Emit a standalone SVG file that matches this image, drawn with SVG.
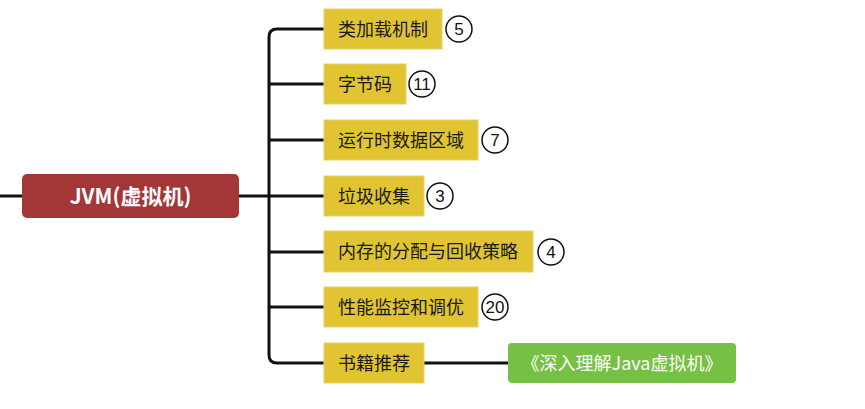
<svg xmlns="http://www.w3.org/2000/svg" width="865" height="409" viewBox="0 0 865 409">
<style>
.ln{fill:none;stroke:#111;stroke-width:3;stroke-linecap:butt}
.yb{fill:#e0c432;stroke:#e8d06a;stroke-width:1}
.yt{font-family:"Noto Sans CJK SC","Liberation Sans",sans-serif;font-size:18px;fill:#1a1a1a}
.bc{fill:#fff;stroke:#111;stroke-width:1.5}
.bt{font-family:"Liberation Sans",Arial,sans-serif;font-size:17px;fill:#111;text-anchor:middle}
</style>
<rect width="865" height="409" fill="#fff"/>
<g id="connectors">
<path class="ln" d="M0 196H22M239 196H269"/>
<path class="ln" d="M324 29H277Q269 29 269 37V355Q269 363 277 363H324"/>
<path class="ln" d="M269 84H324M269 140H324M269 196H324M269 252H324M269 307H324"/>
<path class="ln" d="M424 363H508"/>
</g>
<g id="root">
<rect x="22" y="174" width="217" height="44" rx="5" fill="#a33636"/>
<text x="130.5" y="204" text-anchor="middle" font-family="Noto Sans CJK SC,Liberation Sans,sans-serif" font-size="21" font-weight="bold" fill="#fff">JVM(虚拟机)</text>
</g>
<g id="n1">
<rect class="yb" x="324" y="9" width="118" height="40"/>
<text class="yt" x="338" y="35.5">类加载机制</text>
<circle class="bc" cx="459" cy="29" r="13"/><text class="bt" x="459" y="35">5</text>
</g>
<g id="n2">
<rect class="yb" x="324" y="64" width="82" height="40"/>
<text class="yt" x="338" y="90.5">字节码</text>
<circle class="bc" cx="422" cy="84" r="13"/><text class="bt" x="422" y="90">11</text>
</g>
<g id="n3">
<rect class="yb" x="324" y="120" width="154" height="40"/>
<text class="yt" x="338" y="146.5">运行时数据区域</text>
<circle class="bc" cx="495" cy="140" r="13"/><text class="bt" x="495" y="146">7</text>
</g>
<g id="n4">
<rect class="yb" x="324" y="176" width="100" height="40"/>
<text class="yt" x="338" y="202.5">垃圾收集</text>
<circle class="bc" cx="440" cy="196" r="13"/><text class="bt" x="440" y="202">3</text>
</g>
<g id="n5">
<rect class="yb" x="324" y="231" width="209" height="41"/>
<text class="yt" x="338" y="258">内存的分配与回收策略</text>
<circle class="bc" cx="551" cy="252" r="13"/><text class="bt" x="551" y="258">4</text>
</g>
<g id="n6">
<rect class="yb" x="324" y="287" width="154" height="40"/>
<text class="yt" x="338" y="313.5">性能监控和调优</text>
<circle class="bc" cx="495" cy="307" r="13"/><text class="bt" x="495" y="313">20</text>
</g>
<g id="n7">
<rect class="yb" x="324" y="343" width="100" height="40"/>
<text class="yt" x="338" y="369.5">书籍推荐</text>
</g>
<g id="n8">
<rect x="508" y="343" width="228" height="40" rx="4" fill="#76c043"/>
<text x="622" y="369.5" text-anchor="middle" font-family="Noto Sans CJK SC,Liberation Sans,sans-serif" font-size="18" fill="#fff">《深入理解Java虚拟机》</text>
</g>
</svg>
